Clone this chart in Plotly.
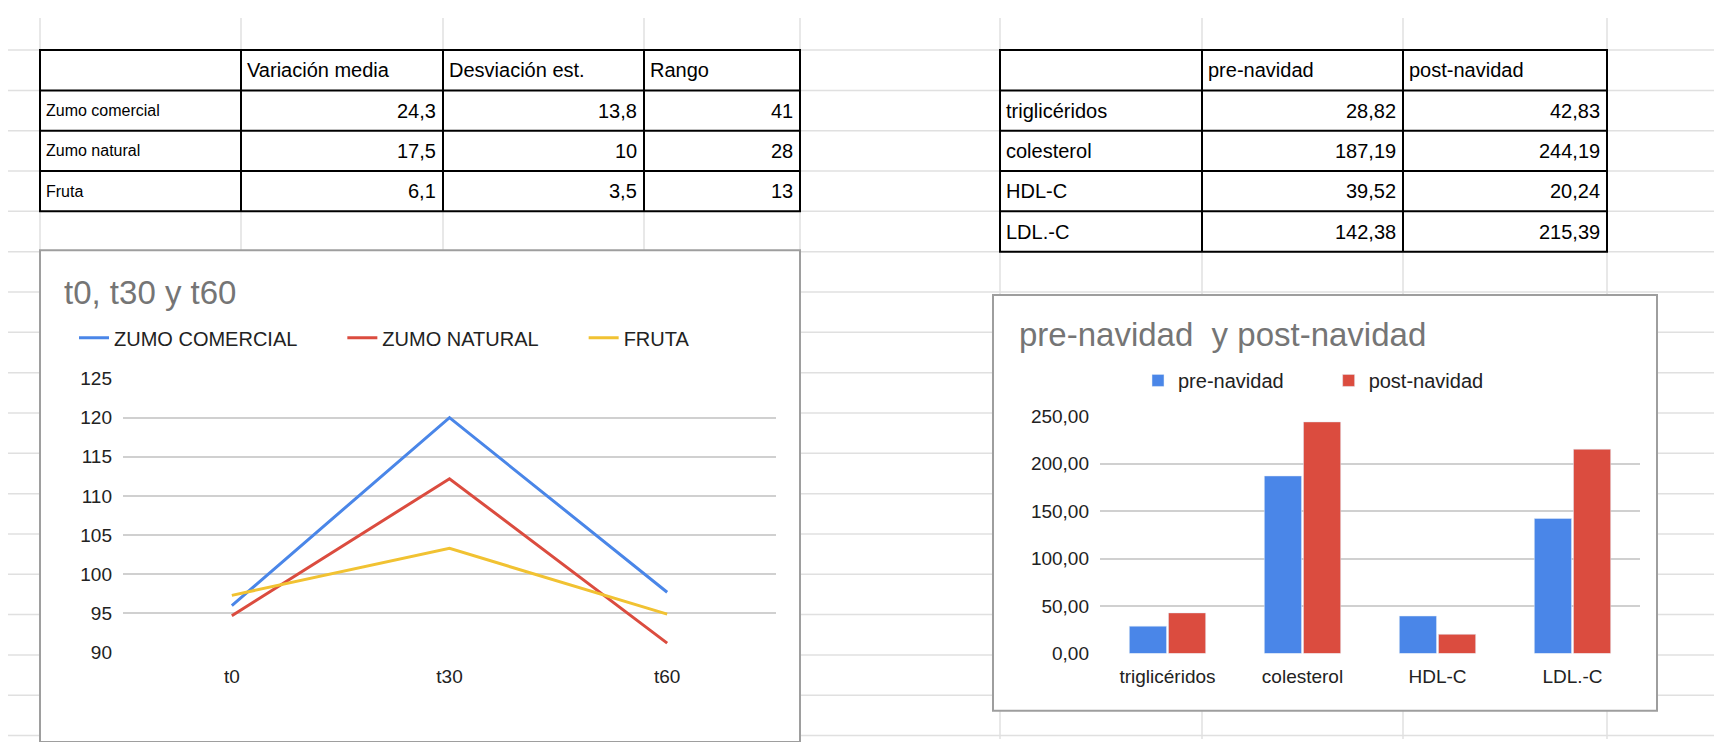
import plotly.graph_objects as go

W, H = 1722, 742
def px(x): return x / W
def py(y): return 1 - y / H

# ---- data ----
t_labels = ["t0", "t30", "t60"]
zumo_comercial = [96.0, 120.0, 97.7]
zumo_natural = [94.7, 112.2, 91.2]
fruta = [97.3, 103.3, 94.9]

lipid_cats = ["triglicéridos", "colesterol", "HDL-C", "LDL.-C"]
pre_navidad = [28.82, 187.19, 39.52, 142.38]
post_navidad = [42.83, 244.19, 20.24, 215.39]

t1_cols = ["", "Variación media", "Desviación est.", "Rango"]
t1_rows = ["Zumo comercial", "Zumo natural", "Fruta"]
t1_vals = [["24,3", "13,8", "41"], ["17,5", "10", "28"], ["6,1", "3,5", "13"]]
t2_cols = ["", "pre-navidad", "post-navidad"]
t2_rows = ["triglicéridos", "colesterol", "HDL-C", "LDL.-C"]
t2_vals = [["28,82", "42,83"], ["187,19", "244,19"], ["39,52", "20,24"], ["142,38", "215,39"]]

BLUE, RED, YEL = "#4a86e8", "#db4c3f", "#f1c232"
FONT = "Liberation Sans, Arial"
SP = "\u2003\u2003"

fig = go.Figure()
fig.add_trace(go.Scatter(x=t_labels, y=zumo_comercial, name="ZUMO COMERCIAL" + SP, mode="lines",
                         line=dict(color=BLUE, width=3), xaxis="x", yaxis="y", legend="legend"))
fig.add_trace(go.Scatter(x=t_labels, y=zumo_natural, name="ZUMO NATURAL" + SP, mode="lines",
                         line=dict(color=RED, width=3), xaxis="x", yaxis="y", legend="legend"))
fig.add_trace(go.Scatter(x=t_labels, y=fruta, name="FRUTA", mode="lines",
                         line=dict(color=YEL, width=3), xaxis="x", yaxis="y", legend="legend"))
fig.add_trace(go.Bar(x=lipid_cats, y=pre_navidad, name="pre-navidad" + SP, marker_color=BLUE,
                     xaxis="x2", yaxis="y2", legend="legend2"))
fig.add_trace(go.Bar(x=lipid_cats, y=post_navidad, name="post-navidad", marker_color=RED,
                     xaxis="x2", yaxis="y2", legend="legend2"))

shapes = []
GRID = "#e0e0e0"
rows_y = [33 + 41.5 * i for i in range(18)]
cols_x = [32, 233, 435, 636, 792, 992, 1194, 1395, 1599, 1712]
for y in rows_y:
    shapes.append(dict(type="line", xref="paper", yref="paper", x0=0, x1=1, y0=py(y), y1=py(y),
                       line=dict(color=GRID, width=1.5), layer="below"))
for x in cols_x:
    shapes.append(dict(type="line", xref="paper", yref="paper", x0=px(x), x1=px(x), y0=0, y1=1,
                       line=dict(color=GRID, width=1.5), layer="below"))

annotations = []
def table(cols_px, top, rh, headers, rows, vals, rowfont):
    nrows = len(rows) + 1
    bottom = top + rh * nrows
    shapes.append(dict(type="rect", xref="paper", yref="paper", x0=px(cols_px[0]), x1=px(cols_px[-1]),
                       y0=py(bottom), y1=py(top), fillcolor="white", line=dict(color="black", width=2)))
    for i in range(1, nrows):
        y = top + rh * i
        shapes.append(dict(type="line", xref="paper", yref="paper", x0=px(cols_px[0]), x1=px(cols_px[-1]),
                           y0=py(y), y1=py(y), line=dict(color="black", width=2)))
    for x in cols_px[1:-1]:
        shapes.append(dict(type="line", xref="paper", yref="paper", x0=px(x), x1=px(x),
                           y0=py(bottom), y1=py(top), line=dict(color="black", width=2)))
    for j, h in enumerate(headers):
        if h:
            annotations.append(dict(text=h, x=px(cols_px[j] + 4), y=py(top + rh / 2), xref="paper", yref="paper",
                                    xanchor="left", yanchor="middle", showarrow=False,
                                    font=dict(size=20, color="black", family=FONT)))
    for i, r in enumerate(rows):
        yc = top + rh * (i + 1.5)
        annotations.append(dict(text=r, x=px(cols_px[0] + 4), y=py(yc), xref="paper", yref="paper",
                                xanchor="left", yanchor="middle", showarrow=False,
                                font=dict(size=rowfont, color="black", family=FONT)))
        for j, v in enumerate(vals[i]):
            annotations.append(dict(text=v, x=px(cols_px[j + 2] - 5), y=py(yc), xref="paper", yref="paper",
                                    xanchor="right", yanchor="middle", showarrow=False,
                                    font=dict(size=20, color="black", family=FONT)))

table([32, 233, 435, 636, 792], 33, 41.5, t1_cols, t1_rows, t1_vals, 16)
table([992, 1194, 1395, 1599], 33, 41.5, t2_cols, t2_rows, t2_vals, 20)

shapes.append(dict(type="rect", xref="paper", yref="paper", x0=px(32), x1=px(792), y0=py(745), y1=py(239),
                   fillcolor="white", line=dict(color="#9e9e9e", width=2), layer="below"))
shapes.append(dict(type="rect", xref="paper", yref="paper", x0=px(985), x1=px(1649), y0=py(713), y1=py(285),
                   fillcolor="white", line=dict(color="#9e9e9e", width=2), layer="below"))

annotations.append(dict(text="t0, t30 y t60", x=px(54), y=py(282), xref="paper", yref="paper",
                        xanchor="left", yanchor="middle", showarrow=False,
                        font=dict(size=33, color="#757575", family=FONT)))
annotations.append(dict(text="pre-navidad  y post-navidad", x=px(1009), y=py(326), xref="paper", yref="paper",
                        xanchor="left", yanchor="middle", showarrow=False,
                        font=dict(size=33, color="#757575", family=FONT)))

axfont = dict(size=19, color="#222", family=FONT)
fig.update_layout(
    width=W, height=H, margin=dict(l=0, r=0, t=0, b=0),
    paper_bgcolor="white", plot_bgcolor="rgba(0,0,0,0)",
    separators=",.",
    shapes=shapes, annotations=annotations,
    barmode="group", bargap=0.42, bargroupgap=0.05,
    xaxis=dict(domain=[px(115), px(768)], range=[-0.5, 2.5], showgrid=False, zeroline=False, showline=False,
               tickfont=axfont, ticks="", ticklabelstandoff=10),
    yaxis=dict(domain=[py(653), py(371)], range=[90, 125], dtick=5, gridcolor="#d0d0d0", gridwidth=1.5,
               zeroline=False, tickfont=axfont, ticklabelstandoff=10),
    xaxis2=dict(domain=[px(1092), px(1632)], anchor="y2", showgrid=False, zeroline=False, showline=False,
                tickfont=axfont, ticks="", ticklabelstandoff=10),
    yaxis2=dict(domain=[py(654), py(410)], anchor="x2", range=[0, 250], dtick=50, tickformat=".2f",
                gridcolor="#d0d0d0", gridwidth=1.5, zeroline=False, tickfont=axfont, ticklabelstandoff=10),
    legend=dict(orientation="h", x=px(66), y=py(329), xanchor="left", yanchor="middle",
                font=dict(size=20, color="#222", family=FONT), bgcolor="rgba(0,0,0,0)", itemwidth=30),
    legend2=dict(orientation="h", x=px(1130), y=py(373), xanchor="left", yanchor="middle",
                 font=dict(size=20, color="#222", family=FONT), bgcolor="rgba(0,0,0,0)", itemwidth=30),
    showlegend=True,
)
fig.write_html("out.html")
